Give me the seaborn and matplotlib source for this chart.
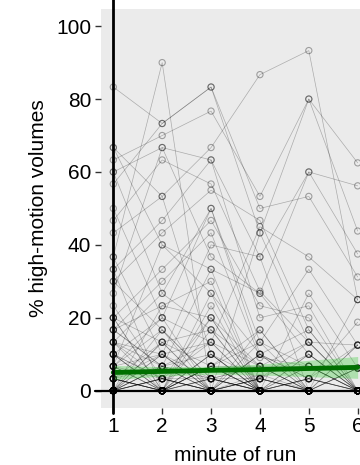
import numpy as np
import pandas as pd
import matplotlib
matplotlib.use("Agg")
import matplotlib.pyplot as plt
import seaborn as sns

# minutes of the run
minutes = [1, 2, 3, 4, 5, 6]

# % high-motion volumes, one entry per subject (same index = same subject)
min1 = [83.3, 66.7, 66.7, 63.3, 60, 60, 56.7, 50, 46.7, 43.3, 36.7, 36.7, 33.3, 33.3, 30, 30,
        26.7, 23.3, 20, 20, 20, 16.7, 16.7, 16.7, 13.3, 13.3, 13.3, 10, 10, 10, 6.7, 6.7,
        6.7, 6.7, 3.3, 3.3, 3.3, 3.3, 3.3, 0, 0, 0, 0, 0, 0, 0, 0, 0,
        0, 0, 0, 0, 0, 0, 0, 0, 0, 0, 0, 0, 0, 0, 0, 0,
        0, 3.3, 6.7, 0, 10, 13.3, 0, 3.3, 0, 6.7, 0, 16.7, 0, 3.3, 0, 10,
        0, 6.7, 0, 20, 0, 3.3, 0, 13.3, 0, 6.7, 0, 3.3, 0, 10, 0, 0]
min2 = [73.3, 53.3, 40, 70, 66.7, 26.7, 73.3, 20, 63.3, 53.3, 90, 10, 46.7, 0, 43.3, 16.7,
        66.7, 3.3, 33.3, 0, 13.3, 30, 6.7, 23.3, 0, 10, 26.7, 20, 0, 3.3, 40, 0,
        16.7, 0, 13.3, 6.7, 0, 10, 0, 23.3, 3.3, 0, 6.7, 3.3, 0, 0, 0, 0,
        0, 0, 0, 0, 0, 0, 0, 0, 0, 0, 0, 0, 0, 0, 0, 0,
        10, 0, 3.3, 6.7, 0, 3.3, 16.7, 0, 3.3, 10, 0, 6.7, 13.3, 0, 6.7, 3.3,
        0, 20, 3.3, 0, 10, 0, 0, 6.7, 3.3, 0, 13.3, 0, 6.7, 0, 3.3, 0]
min3 = [83.3, 66.7, 33.3, 76.7, 63.3, 50, 83.3, 13.3, 56.7, 10, 0, 40, 63.3, 26.7, 55, 3.3,
        36.7, 20, 46.7, 16.7, 6.7, 43.3, 0, 30, 23.3, 0, 16.7, 50, 6.7, 0, 26.7, 3.3,
        0, 10, 0, 33.3, 0, 13.3, 0, 20, 0, 6.7, 0, 3.3, 0, 0, 0, 0,
        0, 0, 0, 0, 0, 0, 0, 0, 0, 0, 0, 0, 0, 0, 0, 0,
        3.3, 10, 0, 13.3, 6.7, 0, 3.3, 0, 6.7, 0, 3.3, 10, 0, 20, 3.3, 0,
        6.7, 0, 13.3, 3.3, 0, 10, 0, 3.3, 0, 6.7, 16.7, 0, 0, 3.3, 0, 6.7]
min4 = [43.3, 86.7, 26.7, 53.3, 36.7, 13.3, 50, 45, 27.3, 0, 43.3, 36.7, 20, 10, 46.7, 0,
        26.7, 6.7, 23.3, 0, 16.7, 9.1, 3.3, 0, 0, 0, 0, 10, 0, 4.5, 0, 6.7,
        0, 0, 3.3, 0, 0, 0, 0, 0, 0, 0, 0, 0, 0, 0, 0, 0,
        0, 0, 0, 0, 0, 0, 0, 0, 0, 0, 0, 0, 0, 0, 0, 0,
        0, 3.3, 10, 0, 6.7, 0, 3.3, 13.3, 0, 3.3, 6.7, 0, 10, 0, 0, 3.3,
        0, 0, 6.7, 0, 16.7, 0, 3.3, 0, 10, 0, 6.7, 0, 3.3, 0, 0, 13.3]
min5 = [80, 93.3, 60, 80, 60, 33.3, 53.3, 36.7, 13.3, 26.7, 13.3, 0, 23.3, 0, 16.7, 0,
        10, 0, 20, 0, 0, 6.7, 0, 0, 0, 3.3, 0, 0, 0, 0, 0, 0,
        0, 0, 0, 0, 0, 0, 0, 0, 0, 0, 0, 0, 0, 0, 0, 0,
        0, 0, 0, 0, 0, 0, 0, 0, 0, 0, 0, 0, 0, 0, 0, 0,
        6.7, 0, 3.3, 0, 13.3, 10, 0, 6.7, 3.3, 0, 0, 0, 16.7, 3.3, 0, 10,
        0, 3.3, 0, 6.7, 0, 0, 13.3, 0, 3.3, 0, 6.7, 3.3, 0, 0, 10, 0]
min6 = [62.5, 25, 56.2, 43.8, 37.5, 12.5, 31.2, 25, 12.5, 6.2, 0, 0, 0, 0, 0, 0,
        0, 0, 0, 0, 0, 0, 0, 0, 0, 0, 0, 0, 0, 0, 0, 0,
        0, 0, 0, 0, 0, 0, 0, 0, 0, 0, 0, 0, 0, 0, 0, 0,
        0, 0, 0, 0, 0, 0, 0, 0, 0, 0, 0, 0, 0, 0, 0, 0,
        0, 6.2, 0, 12.5, 0, 0, 0, 0, 18.8, 0, 6.2, 0, 0, 0, 12.5, 0,
        0, 0, 6.2, 0, 0, 0, 0, 25, 0, 0, 0, 12.5, 0, 0, 0, 6.2]

# linear fit and its confidence band
fit_pct = [5.0, 5.3, 5.6, 5.8, 6.1, 6.4]
fit_lo = [3.05, 4.0, 4.5, 4.3, 3.85, 3.4]
fit_hi = [6.95, 6.6, 6.7, 7.3, 8.35, 9.4]

n = len(min1)
df = pd.DataFrame({
    "subject": np.tile(np.arange(n), len(minutes)),
    "minute": np.repeat(minutes, n),
    "pct": np.concatenate([min1, min2, min3, min4, min5, min6]),
})
fit = pd.DataFrame({"minute": minutes, "pct": fit_pct, "lo": fit_lo, "hi": fit_hi})

sns.set_theme(style="dark", rc={"axes.facecolor": "#EBEBEB", "axes.grid": False})
plt.rcParams["font.family"] = ["Liberation Sans", "DejaVu Sans"]

fig = plt.figure(figsize=(3.6, 4.65), dpi=100)
ax = fig.add_axes([0.2808, 0.1232, 0.7467, 0.8574])

# subject trajectories
sns.lineplot(data=df, x="minute", y="pct", units="subject", estimator=None,
             color="black", alpha=0.27, lw=0.5, legend=False, ax=ax, zorder=1)
sns.scatterplot(data=df, x="minute", y="pct", s=20, facecolor="none",
                edgecolor=(0, 0, 0, 0.33), linewidth=0.8, legend=False, ax=ax, zorder=2)

# fit line with band
ax.fill_between(fit["minute"], fit["lo"], fit["hi"], color="#33cc33", alpha=0.33, lw=0, zorder=3)
sns.lineplot(data=fit, x="minute", y="pct", color="#007000", lw=3.5, ax=ax, zorder=4)

# reference lines at minute 1 and 0 %
ax.axvline(1, ymin=-0.014, ymax=1.03, color="black", lw=2, clip_on=False, zorder=5)
ax.axhline(0, xmin=-0.022, xmax=1, color="black", lw=1.6, clip_on=False, zorder=5)

ax.set_xlim(0.75, 6.25)
ax.set_ylim(-4.66, 104.7)
ax.set_xticks(minutes)
ax.set_yticks([0, 20, 40, 60, 80, 100])
for s in ax.spines.values():
    s.set_visible(False)
ax.tick_params(axis="both", which="major", length=4, width=1, color="#333333",
               pad=3, labelsize=15, labelcolor="black", bottom=True, left=True)
ax.set_xlabel("minute of run", fontsize=15, labelpad=7, color="black")
ax.set_ylabel("% high-motion volumes", fontsize=15, labelpad=6, color="black")

fig.savefig("out.png", dpi=100)
